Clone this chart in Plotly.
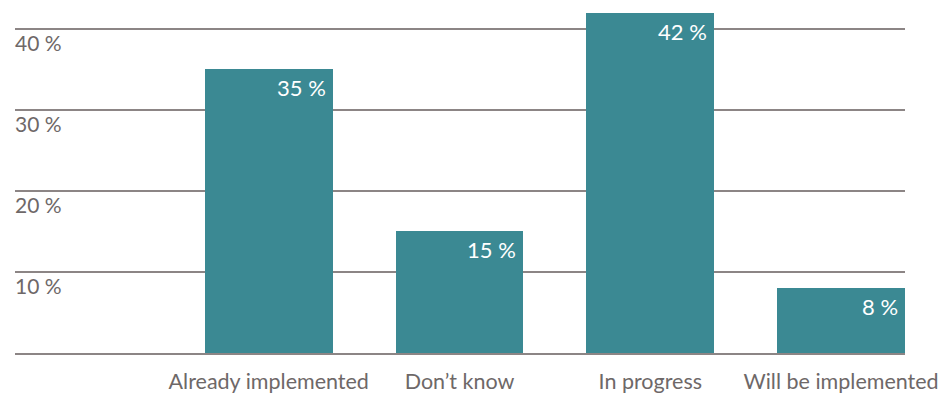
import plotly.graph_objects as go

categories = ["Already implemented", "Don\u2019t know", "In progress", "Will be implemented"]
values = [35, 15, 42, 8]
y_ticks = [10, 20, 30, 40]
y_tick_labels = ["10 %", "20 %", "30 %", "40 %"]

BAR = "#3b8993"
GRID = "#8c8585"
TEXT = "#6e6868"
FONT = "Lato"

x_pos = list(range(len(categories)))
bar_w = 0.67

fig = go.Figure(
    go.Bar(
        x=x_pos,
        y=values,
        width=bar_w,
        marker=dict(color=BAR, line=dict(width=0)),
        hoverinfo="skip",
    )
)

# value labels, right-aligned in the top corner of each bar
for xp, v in zip(x_pos, values):
    fig.add_annotation(
        x=xp + bar_w / 2, y=v, text=f"{v} %",
        xanchor="right", yanchor="top", xshift=-5, yshift=-3,
        showarrow=False, font=dict(family=FONT, size=22, color="white"),
    )

fig.update_layout(
    width=950, height=397,
    margin=dict(l=15, r=45, t=9, b=44),
    paper_bgcolor="white", plot_bgcolor="white",
    showlegend=False,
    font=dict(family=FONT, color=TEXT, size=21),
    xaxis=dict(
        range=[-1.33, 3.335],
        tickvals=x_pos, ticktext=categories,
        showgrid=False, zeroline=False,
        showline=True, linecolor=GRID, linewidth=1.5,
        ticks="", tickfont=dict(size=21.5, color=TEXT),
        ticklabelstandoff=8,
        automargin=False,
        fixedrange=True,
    ),
    yaxis=dict(
        range=[0, 42.45],
        tickvals=y_ticks, ticktext=y_tick_labels,
        ticklabelposition="inside bottom",
        ticklabelstandoff=-3,
        showgrid=True, gridcolor=GRID, gridwidth=1.5,
        zeroline=False, showline=False, ticks="",
        tickfont=dict(size=21, color=TEXT),
        automargin=False,
        fixedrange=True,
    ),
    bargap=0,
)

fig.write_html("out.html")
